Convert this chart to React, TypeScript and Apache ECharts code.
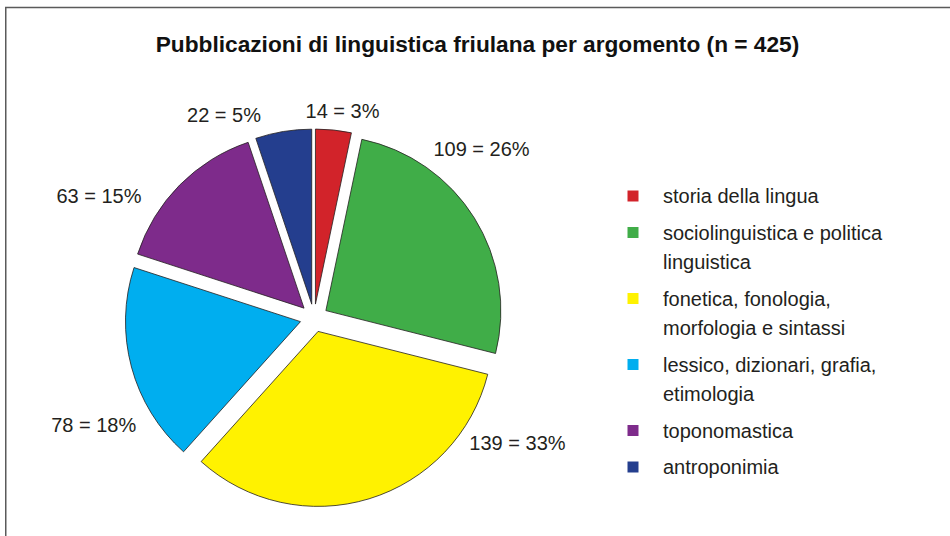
import React, { useEffect, useRef } from "react";
import * as echarts from "echarts";

const TITLE = "Pubblicazioni di linguistica friulana per argomento (n = 425)";
const CATEGORIES = [
  "storia della lingua",
  "sociolinguistica e politica linguistica",
  "fonetica, fonologia, morfologia e sintassi",
  "lessico, dizionari, grafia, etimologia",
  "toponomastica",
  "antroponimia",
];
const LEGEND_LINES = [
  "storia della lingua",
  "sociolinguistica e politica\nlinguistica",
  "fonetica, fonologia,\nmorfologia e sintassi",
  "lessico, dizionari, grafia,\netimologia",
  "toponomastica",
  "antroponimia",
];
const VALUES = [14, 109, 139, 78, 63, 22];
const COLORS = ["#d2232a", "#40ad48", "#fff200", "#00aeef", "#7e2b8b", "#243e8e"];

// layout / styling
const CX = 314;
const CY = 318;
const R = 175;
const EXPLODE = 14;
const LABEL_ANGLE_SHIFT = [1.9, -13.3, -41.4, -10.9, -15.2, -14.6];
const LABEL_DIST = [209, 238, 239, 245, 247, 222];
const LEGEND_X = 627.5;
const LEGEND_Y = 196;
const LEGEND_ICON = 11;
const LEGEND_TEXT_X = 663;
const LEGEND_LINE_H = 29.5;
const LEGEND_GAP = 7;
const TEXT_COLOR = "#231f20";
const FONT = "'Liberation Sans', Arial, sans-serif";

export default function App() {
  const ref = useRef<HTMLDivElement>(null);
  useEffect(() => {
    if (!ref.current) return;
    const chart = echarts.init(ref.current, null, { renderer: "svg" });
    const total = VALUES.reduce((a, b) => a + b, 0);
    const mids: number[] = [];
    let cum = 0;
    VALUES.forEach((v) => {
      mids.push(((cum + v / 2) / total) * 360);
      cum += v;
    });

    // value labels, positioned around the pie from each slice's angle
    const labels = VALUES.map((v, i) => {
      const a = ((mids[i] + LABEL_ANGLE_SHIFT[i]) * Math.PI) / 180;
      return {
        type: "text",
        silent: true,
        x: CX + LABEL_DIST[i] * Math.sin(a),
        y: CY - LABEL_DIST[i] * Math.cos(a),
        style: {
          text: `${v} = ${Math.round((v / total) * 100)}%`,
          fontSize: 20,
          fontFamily: FONT,
          fill: TEXT_COLOR,
          align: "center",
          verticalAlign: "middle",
        },
      };
    });

    // legend: icon + (possibly wrapped) text, stacked
    const legendEls: any[] = [];
    let ly = LEGEND_Y;
    LEGEND_LINES.forEach((txt, i) => {
      const nLines = txt.split("\n").length;
      legendEls.push({
        type: "rect",
        silent: true,
        shape: { x: LEGEND_X, y: ly - LEGEND_ICON / 2, width: LEGEND_ICON, height: LEGEND_ICON },
        style: { fill: COLORS[i] },
      });
      legendEls.push({
        type: "text",
        silent: true,
        x: LEGEND_TEXT_X,
        y: ly - LEGEND_LINE_H / 2,
        style: {
          text: txt,
          fontSize: 20,
          fontFamily: FONT,
          fill: TEXT_COLOR,
          lineHeight: LEGEND_LINE_H,
          align: "left",
          verticalAlign: "top",
        },
      });
      ly += nLines * LEGEND_LINE_H + LEGEND_GAP;
    });

    chart.setOption({
      animation: false,
      textStyle: { fontFamily: FONT },
      title: {
        text: TITLE,
        left: 477.5,
        top: 32,
        textAlign: "center",
        padding: 0,
        textStyle: { fontSize: 22.7, fontWeight: "bold", color: "#111", fontFamily: FONT },
      },
      graphic: [
        {
          type: "rect",
          shape: { x: 5.75, y: 7.5, width: 2000, height: 2000 },
          style: { fill: "none", stroke: "#5a5a5a", lineWidth: 1.5 },
          silent: true,
        },
        ...labels,
        ...legendEls,
      ],
      series: [
        {
          type: "pie",
          center: [CX, CY],
          radius: R,
          startAngle: 90,
          clockwise: true,
          selectedMode: "multiple",
          selectedOffset: EXPLODE,
          emphasis: { disabled: true },
          itemStyle: { borderColor: "#231f20", borderWidth: 0.8 },
          label: { show: false },
          labelLine: { show: false },
          data: CATEGORIES.map((name, i) => ({
            name,
            value: VALUES[i],
            selected: true,
            itemStyle: { color: COLORS[i] },
          })),
        },
      ],
    });
    return () => chart.dispose();
  }, []);
  return (
    <div
      ref={ref}
      style={{ position: "fixed", left: 0, top: 0, width: 950, height: 536, background: "#fff" }}
    />
  );
}
